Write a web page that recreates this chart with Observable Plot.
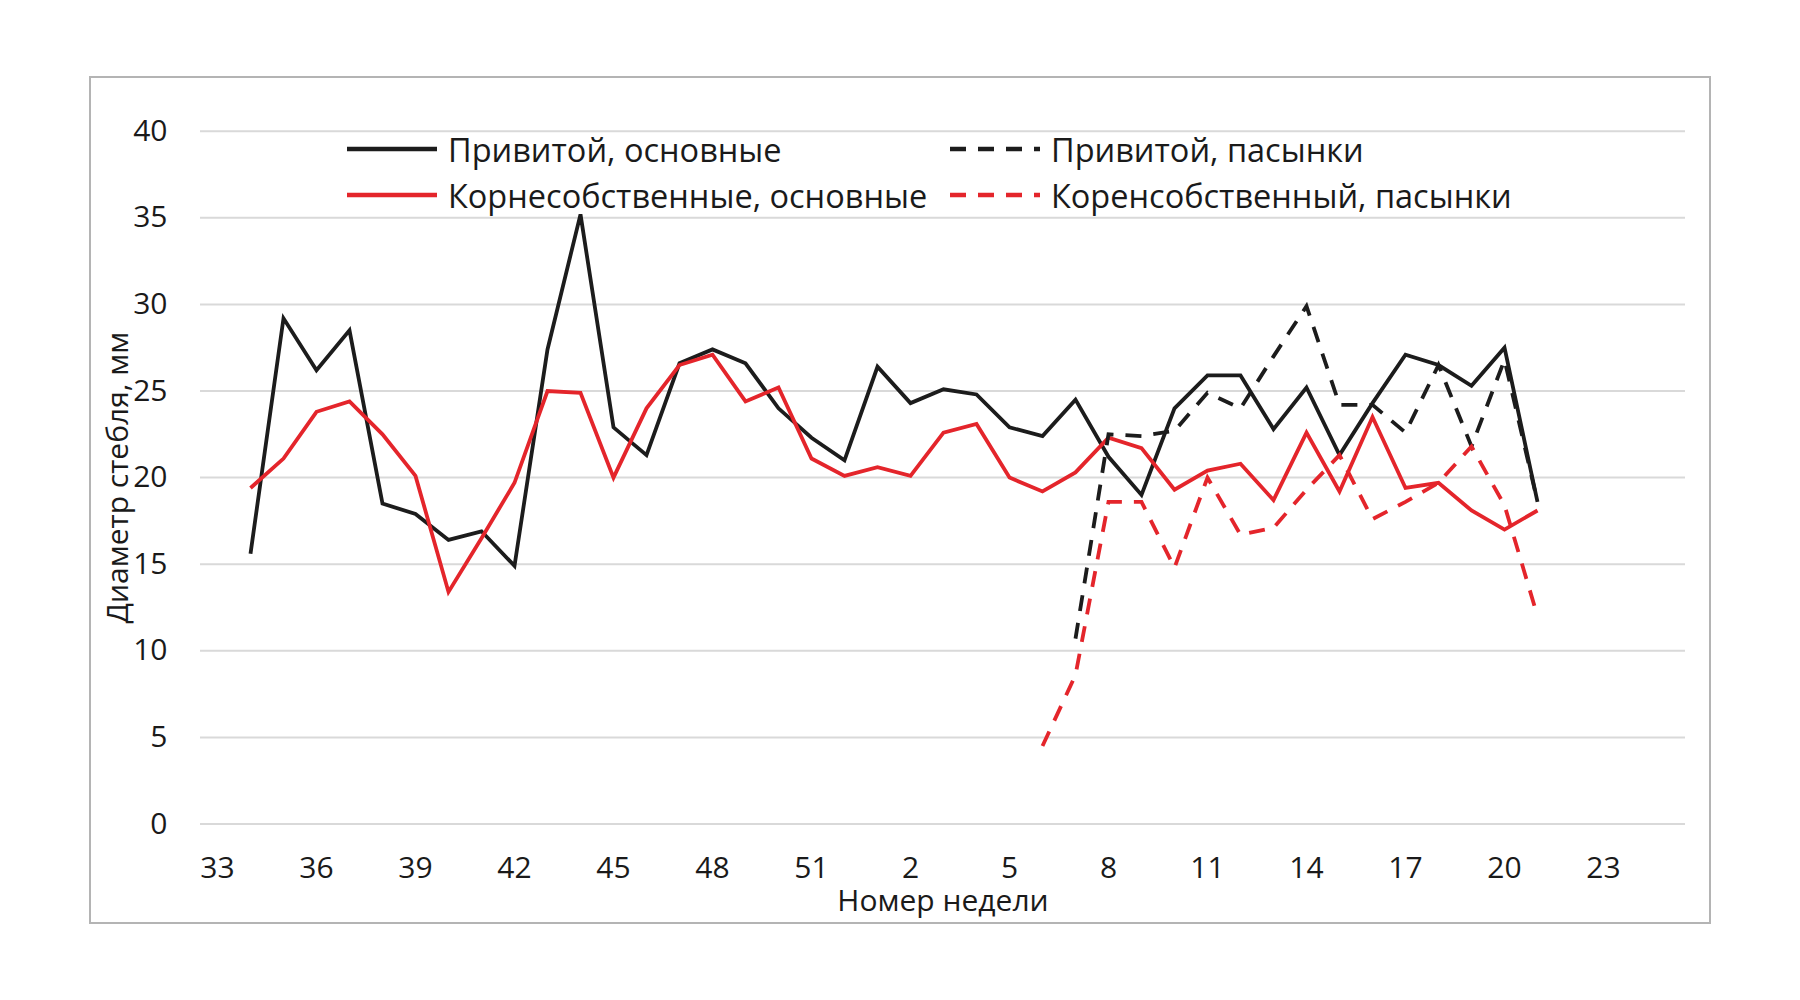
<!DOCTYPE html>
<html>
<head>
<meta charset="utf-8">
<script src="https://cdn.jsdelivr.net/npm/d3@7"></script>
<script src="https://cdn.jsdelivr.net/npm/@observablehq/plot@0.6"></script>
<style>
  body { margin: 0; background: #ffffff; }
  #wrap { position: relative; width: 1800px; height: 1000px; font-family: "Open Sans", sans-serif; color: #1a1a1a; }
  #frame { position: absolute; left: 89px; top: 76px; width: 1618px; height: 844px; border: 2px solid #b4b4b4; box-sizing: content-box; }
  #chart { position: absolute; left: 0; top: 0; }
  #legend { position: absolute; left: 0; top: 0; width: 1800px; height: 0; }
  .item { position: absolute; display: flex; align-items: center; height: 46px; font-size: 32.5px; white-space: nowrap; }
  .item svg { margin-right: 11px; }
</style>
</head>
<body>
<div id="wrap">
  <div id="frame"></div>
  <div id="chart"></div>
  <div id="legend"></div>
</div>
<script>
// Week categories (x axis): weeks 33..52, then 1..25
const weeks = ["33","34","35","36","37","38","39","40","41","42","43","44","45","46","47","48","49","50","51","52",
               "1","2","3","4","5","6","7","8","9","10","11","12","13","14","15","16","17","18","19","20","21","22","23","24","25"];
const tickWeeks = ["33","36","39","42","45","48","51","2","5","8","11","14","17","20","23"];
const yTicks = [0, 5, 10, 15, 20, 25, 30, 35, 40];

const seriesNames = ["Привитой, основные", "Корнесобственные, основные", "Привитой, пасынки", "Коренсобственный, пасынки"];

// Main stems: weeks 34 .. 21
const mainWeeks = ["34","35","36","37","38","39","40","41","42","43","44","45","46","47","48","49","50","51","52",
                   "1","2","3","4","5","6","7","8","9","10","11","12","13","14","15","16","17","18","19","20","21"];
const graftedMain = [15.6, 29.2, 26.2, 28.5, 18.5, 17.9, 16.4, 16.9, 14.9, 27.4, 35.2, 22.9, 21.3, 26.6, 27.4, 26.6, 24.0, 22.3, 21.0,
                     26.4, 24.3, 25.1, 24.8, 22.9, 22.4, 24.5, 21.2, 19.0, 24.0, 25.9, 25.9, 22.8, 25.2, 21.3, 24.3, 27.1, 26.5, 25.3, 27.5, 18.6];
const ownRootMain = [19.4, 21.1, 23.8, 24.4, 22.5, 20.1, 13.4, 16.5, 19.7, 25.0, 24.9, 20.0, 24.0, 26.5, 27.1, 24.4, 25.2, 21.1, 20.1,
                     20.6, 20.1, 22.6, 23.1, 20.0, 19.2, 20.3, 22.3, 21.7, 19.3, 20.4, 20.8, 18.7, 22.6, 19.2, 23.5, 19.4, 19.7, 18.1, 17.0, 18.1];

// Side shoots
const graftedShootWeeks = ["7","8","9","10","11","12","13","14","15","16","17","18","19","20","21"];
const graftedShoots = [10.7, 22.5, 22.4, 22.7, 24.9, 24.0, 27.0, 29.9, 24.2, 24.2, 22.6, 26.5, 21.8, 26.8, 18.6];
const ownRootShootWeeks = ["6","7","8","9","10","11","12","13","14","15","16","17","18","19","20","21"];
const ownRootShoots = [4.5, 8.6, 18.6, 18.6, 14.8, 20.0, 16.7, 17.1, 19.3, 21.3, 17.6, 18.6, 19.7, 21.8, 18.4, 12.0];

const colors = ["#1c1c1c", "#e4252b", "#1c1c1c", "#e4252b"];
const dashes = [null, null, "16,12", "16,12"];

const toRows = (ws, vs) => ws.map((w, i) => ({week: w, value: vs[i]}));
const seriesData = [
  toRows(mainWeeks, graftedMain),
  toRows(mainWeeks, ownRootMain),
  toRows(graftedShootWeeks, graftedShoots),
  toRows(ownRootShootWeeks, ownRootShoots)
];

const chart = Plot.plot({
  width: 1800,
  height: 1000,
  marginLeft: 200,
  marginRight: 115,
  marginTop: 130.7,
  marginBottom: 176.5,
  style: {fontFamily: '"Open Sans", sans-serif', fontSize: "30px", color: "#1a1a1a", background: "transparent", overflow: "visible"},
  x: {type: "point", domain: weeks, padding: 0.5},
  y: {domain: [0, 40]},
  marks: [
    Plot.ruleY(yTicks, {stroke: "#d9d9d9", strokeWidth: 2}),
    Plot.axisY({ticks: yTicks, tickSize: 0, tickPadding: 33, fontSize: 30,
      label: "Диаметр стебля, мм", labelAnchor: "center", labelArrow: "none", labelOffset: 94}),
    Plot.axisX({ticks: tickWeeks, tickSize: 0, tickPadding: 33, fontSize: 30,
      label: "Номер недели", labelAnchor: "center", labelArrow: "none", labelOffset: 87}),
    ...seriesData.map((d, i) => Plot.line(d, {
      x: "week", y: "value",
      stroke: colors[i], strokeWidth: 3.8,
      strokeDasharray: dashes[i] ?? undefined,
      strokeLinejoin: "miter", strokeLinecap: "butt", strokeMiterlimit: 4
    }))
  ]
});
document.getElementById("chart").appendChild(chart);

// Legend (two columns, two rows) overlaid on the plot area
const legendPos = [
  {left: 347, top: 126}, {left: 347, top: 172}, {left: 950, top: 126}, {left: 950, top: 172}
];
const legend = document.getElementById("legend");
seriesNames.forEach((name, i) => {
  const item = document.createElement("div");
  item.className = "item";
  item.style.left = legendPos[i].left + "px";
  item.style.top = legendPos[i].top + "px";
  const dash = dashes[i] ? ` stroke-dasharray="${dashes[i]}"` : "";
  item.innerHTML = `<svg width="90" height="10"><line x1="0" y1="5" x2="90" y2="5" stroke="${colors[i]}" stroke-width="4.5"${dash}/></svg><span>${name}</span>`;
  legend.appendChild(item);
});
</script>
</body>
</html>
